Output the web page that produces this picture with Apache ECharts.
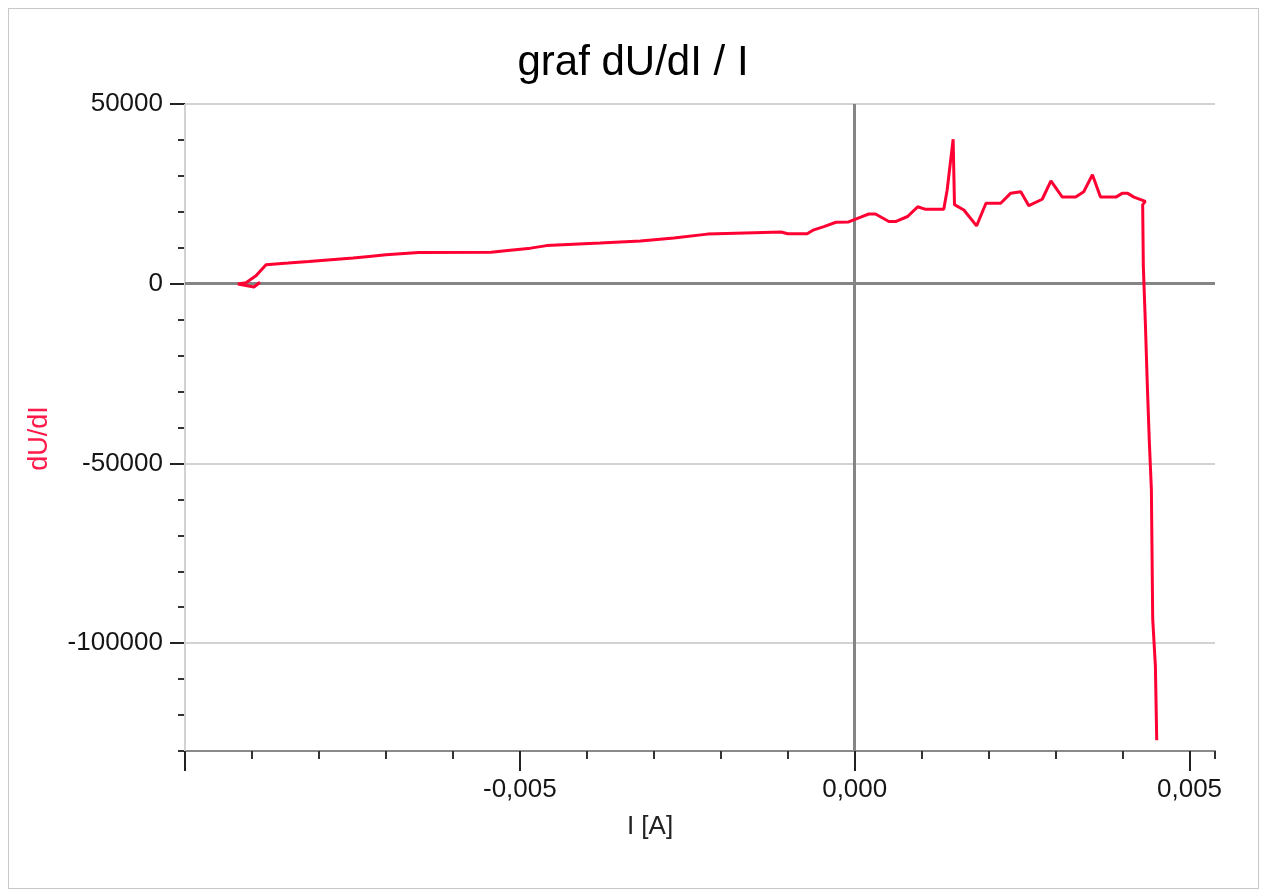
<!DOCTYPE html>
<html>
<head>
<meta charset="utf-8">
<script src="https://cdn.jsdelivr.net/npm/echarts@6/dist/echarts.min.js"></script>
<style>
html,body{margin:0;padding:0;background:#fff;}
#chart{position:absolute;left:0;top:0;width:1266px;height:896px;}
#frame{position:absolute;left:8px;top:8px;width:1249px;height:879px;border:1px solid #c8c8c8;pointer-events:none;}
</style>
</head>
<body>
<div id="chart"></div>
<div id="frame"></div>
<script>
// current I [A]
const currentI = [
  -0.00888, -0.00897, -0.00921, -0.00909, -0.00894, -0.00879, -0.00846, -0.00815,
  -0.00782, -0.00749, -0.00725, -0.00700, -0.00651, -0.00543, -0.00518, -0.00484,
  -0.00460, -0.00380, -0.00320, -0.00270, -0.00220, -0.00150, -0.00110, -0.00100,
  -0.00071, -0.00061, -0.00046, -0.00028, -0.00009, 0.00009, 0.00021, 0.00031,
  0.00051, 0.00061, 0.00079, 0.00094, 0.00106, 0.00133, 0.00138, 0.00147,
  0.00149, 0.00163, 0.00182, 0.00196, 0.00218, 0.00233, 0.00248, 0.00260,
  0.00280, 0.00293, 0.00310, 0.00330, 0.00342, 0.00355, 0.00367, 0.00390,
  0.00400, 0.00407, 0.00417, 0.00434, 0.00430, 0.00431, 0.00434, 0.00437,
  0.00440, 0.00443, 0.00445, 0.00449, 0.00451
];
// dU/dI
const dUdI = [
  400, -900, -100, 300, 2200, 5300, 5750, 6200,
  6700, 7150, 7600, 8050, 8700, 8750, 9250, 9900,
  10600, 11300, 11900, 12700, 13800, 14200, 14400, 13900,
  13900, 15000, 15900, 17100, 17200, 18500, 19400, 19400,
  17300, 17300, 18700, 21400, 20700, 20700, 26000, 40200,
  22000, 20500, 16100, 22400, 22400, 25200, 25600, 21700,
  23500, 28600, 24100, 24100, 25600, 30300, 24100, 24100,
  25200, 25200, 24100, 22900, 22000, 4700, -10800, -28600,
  -44200, -57200, -93300, -106400, -127000
];
const xMin = -0.01, xMax = 0.00538, xMinorStep = 0.001;
const yMin = -130000, yMax = 50000, yMinorStep = 10000;
const xMajorTicks = [-0.01, -0.005, 0, 0.005];
const xLabelValues = [-0.005, 0, 0.005];
const yMajorTicks = [-100000, -50000, 0, 50000];
const xGridValues = [-0.005, 0.005];
const yGridValues = [-100000, -50000, 50000];
const zeroValue = 0;

const points = currentI.map((x, i) => [x, dUdI[i]]);

const labelFont = {
  fontFamily: '"Liberation Sans", Arial, sans-serif',
  fontSize: 26,
  color: '#151515'
};

const chart = echarts.init(document.getElementById('chart'), null, {renderer: 'canvas'});
chart.setOption({
  animation: false,
  backgroundColor: '#fff',
  title: {
    text: 'graf dU/dI / I',
    left: 'center',
    top: 37,
    textStyle: {fontFamily: '"Liberation Sans", Arial, sans-serif', fontSize: 42, fontWeight: 'normal', color: '#000'}
  },
  grid: {left: 185, top: 104, right: 51, bottom: 145, containLabel: false},
  xAxis: [
    {
      type: 'value', min: xMin, max: xMax, interval: xMinorStep, position: 'bottom',
      axisLine: {show: true, onZero: false, lineStyle: {color: '#8a8a8a', width: 2}},
      axisTick: {show: true, length: 8, lineStyle: {color: '#333', width: 2}},
      axisLabel: {show: false},
      splitLine: {show: false}
    },
    {
      type: 'value', min: xMin, max: xMax, position: 'bottom',
      name: 'I [A]', nameLocation: 'middle', nameGap: 63,
      nameTextStyle: Object.assign({}, labelFont, {fontSize: 26, padding: [0, 100, 0, 0], color: '#222'}),
      axisLine: {show: false, onZero: false},
      axisTick: {show: true, length: 20, customValues: xMajorTicks, lineStyle: {color: '#222', width: 2}},
      axisLabel: Object.assign({}, labelFont, {
        show: true, margin: 26, customValues: xLabelValues,
        formatter: v => v.toFixed(3).replace('.', ',')
      }),
      splitLine: {show: false}
    }
  ],
  yAxis: [
    {
      type: 'value', min: yMin, max: yMax, interval: yMinorStep, position: 'left',
      axisLine: {show: true, onZero: false, lineStyle: {color: '#8a8a8a', width: 2}},
      axisTick: {show: true, length: 7, lineStyle: {color: '#333', width: 2}},
      axisLabel: {show: false},
      splitLine: {show: false}
    },
    {
      type: 'value', min: yMin, max: yMax, position: 'left',
      name: 'dU/dI', nameLocation: 'middle', nameGap: 132, nameRotate: 90,
      nameTextStyle: {fontFamily: '"Liberation Sans", Arial, sans-serif', fontSize: 27, color: '#ff1a4a', padding: [0, 22, 0, 0]},
      axisLine: {show: false, onZero: false},
      axisTick: {show: true, length: 15, customValues: yMajorTicks, lineStyle: {color: '#222', width: 2}},
      axisLabel: Object.assign({}, labelFont, {show: true, margin: 22, customValues: yMajorTicks,
        formatter: v => String(v)}),
      splitLine: {show: false}
    }
  ],
  series: [
    {
      type: 'line', data: [], xAxisIndex: 0, yAxisIndex: 0, z: 1, silent: true,
      markLine: {
        silent: true, symbol: 'none', z: 1, label: {show: false},
        data: [
          ...xGridValues.map(v => ({xAxis: v, lineStyle: {color: '#d2d2d2', width: 2, type: 'solid'}})),
          ...yGridValues.map(v => ({yAxis: v, lineStyle: {color: '#d2d2d2', width: 2, type: 'solid'}})),
          {xAxis: zeroValue, lineStyle: {color: '#858585', width: 3, type: 'solid'}},
          {yAxis: zeroValue, lineStyle: {color: '#858585', width: 3, type: 'solid'}}
        ]
      }
    },
    {
      type: 'line', data: points, xAxisIndex: 0, yAxisIndex: 0, z: 3,
      showSymbol: false, symbol: 'none', smooth: false,
      lineStyle: {color: '#ff0033', width: 3}
    }
  ]
});
</script>
</body>
</html>
